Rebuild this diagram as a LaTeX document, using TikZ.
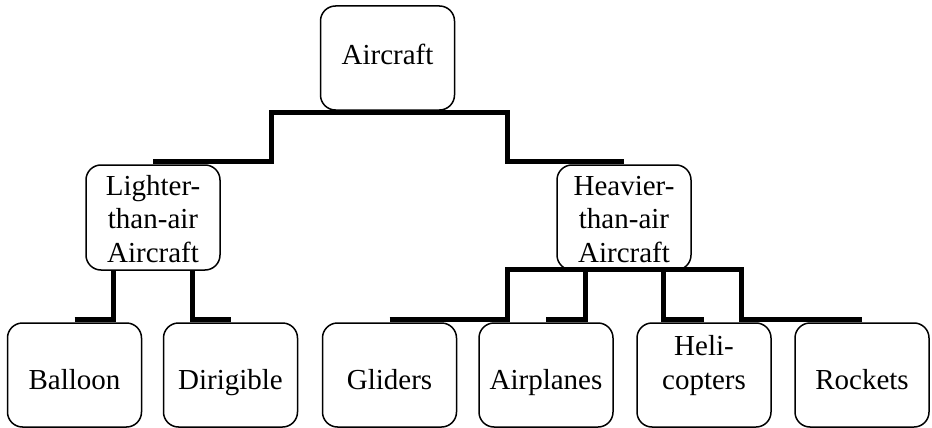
\documentclass[tikz,border=0pt]{standalone}
\usepackage{fontspec}
\setmainfont{Liberation Serif}
\usetikzlibrary{calc}
\begin{document}
\begin{tikzpicture}[x=1pt,y=-1pt,
  box/.style={draw, line width=1.5pt, rounded corners=15pt, minimum width=134pt,
              minimum height=104pt, inner sep=0pt},
  lbl/.style={anchor=base, align=center, inner sep=0pt,
              font=\fontsize{29}{33.5}\selectfont},
  conn/.style={line width=5pt}]
\useasboundingbox (0,0) rectangle (932,428);

% boxes
\node[box] (air)       at (387.5,58)  {};
\node[box, minimum height=105pt] (lta) at (153,217.5) {};
\node[box, minimum height=105pt] (hta) at (624,217.5) {};
\node[box] (balloon)   at (74.5,375)  {};
\node[box] (dirigible) at (230.5,375) {};
\node[box] (gliders)   at (389.5,375) {};
\node[box] (airplanes) at (546,375)   {};
\node[box] (heli)      at (704,375)   {};
\node[box] (rockets)   at (862,375)   {};

% labels (base anchor = baseline of the last line)
\node[lbl] (airt)  at ([yshift=-7pt]air.center)    {Aircraft};
\node[lbl] (ltat)  at ([yshift=-44.5pt]lta.center) {Lighter-\\than-air\\Aircraft};
\node[lbl] (htat)  at ([yshift=-44.5pt]hta.center) {Heavier-\\than-air\\Aircraft};
\node[lbl] (ballt) at ([yshift=-14pt]balloon.center)   {Balloon};
\node[lbl] (dirt)  at ([yshift=-14pt]dirigible.center) {Dirigible};
\node[lbl] (glit)  at ([yshift=-14pt]gliders.center)   {Gliders};
\node[lbl] (airpt) at ([yshift=-14pt]airplanes.center) {Airplanes};
\node[lbl] (helit) at ([yshift=-14pt]heli.center)      {Heli-\\copters};
\node[lbl] (rockt) at ([yshift=-14pt]rockets.center)   {Rockets};

% connectors: Aircraft
\draw[conn] ([yshift=2.5pt]lta.north) -| ([shift={(-116.5,1.5)}]air.south) -- ([yshift=-1.5pt]air.south);
\draw[conn] ([yshift=2.5pt]hta.north) -| ([shift={(119.5,1.5)}]air.south) -- ([yshift=-1.5pt]air.south);

% connectors: lighter-than-air
\draw[conn] ([yshift=2.5pt]balloon.north)   -| ([xshift=-39.5pt]lta.south);
\draw[conn] ([yshift=2.5pt]dirigible.north) -| ([xshift=39.5pt]lta.south);

% connectors: heavier-than-air
\draw[conn] ([yshift=2.5pt]gliders.north)   -| ([shift={(-117,-1.5)}]hta.south) -- ([yshift=1.5pt]hta.south);
\draw[conn] ([yshift=2.5pt]airplanes.north) -| ([shift={(-39,-1.5)}]hta.south) -- ([yshift=1.5pt]hta.south);
\draw[conn] ([yshift=2.5pt]heli.north)      -| ([shift={(39,-1.5)}]hta.south) -- ([yshift=1.5pt]hta.south);
\draw[conn] ([yshift=2.5pt]rockets.north)   -| ([shift={(117,-1.5)}]hta.south) -- ([yshift=1.5pt]hta.south);
\end{tikzpicture}
\end{document}
